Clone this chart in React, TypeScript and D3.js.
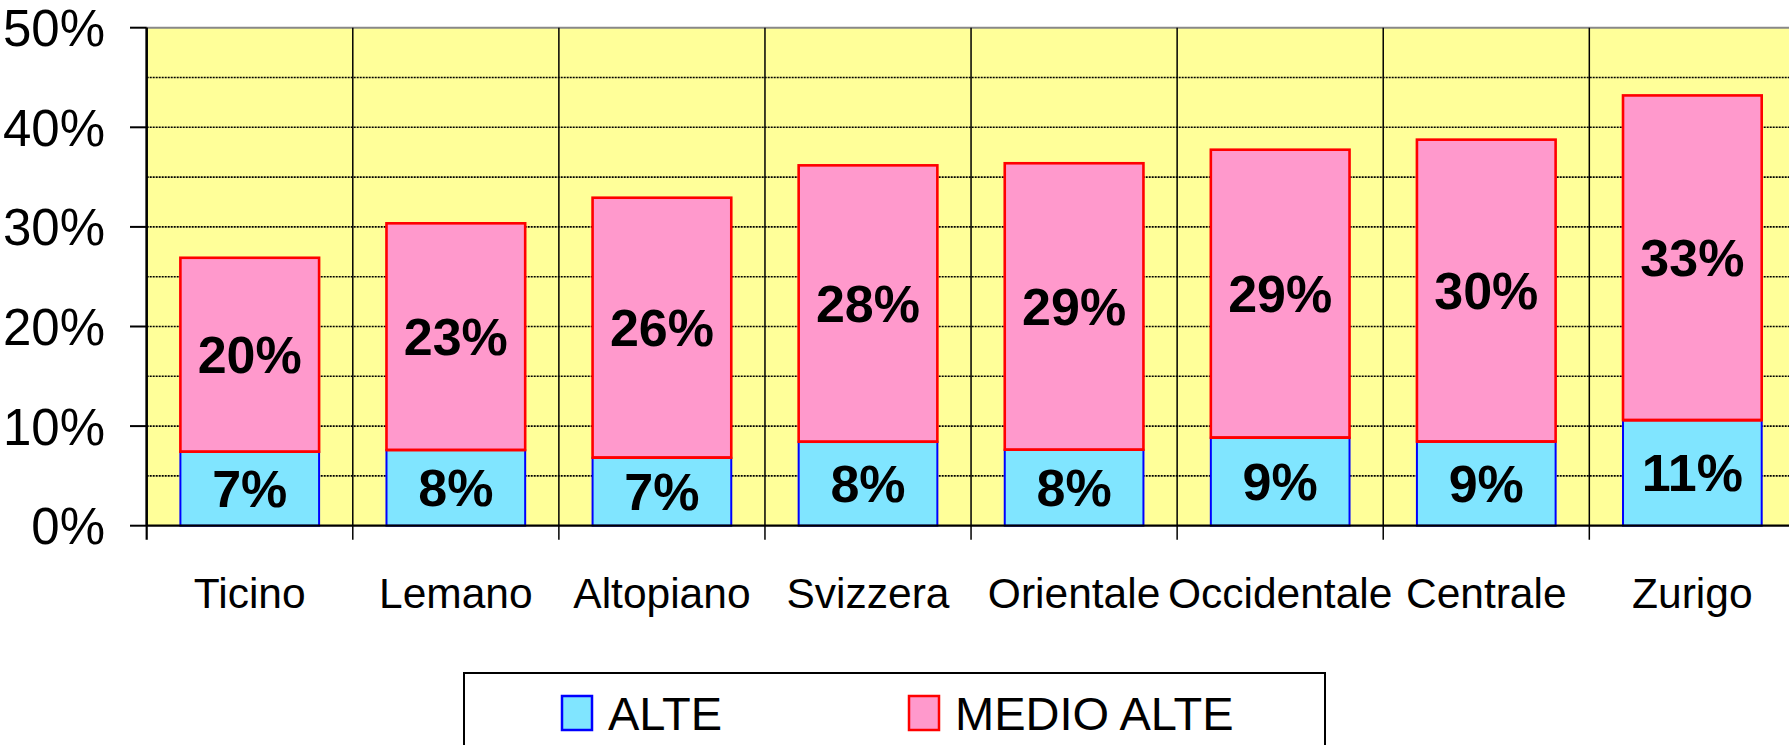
import React from "react";
import * as d3 from "d3";

// dati (percentuali)
const regioni = ["Ticino", "Lemano", "Altopiano", "Svizzera", "Orientale", "Occidentale", "Centrale", "Zurigo"];
const alte = [7.43, 7.6, 6.83, 8.43, 7.63, 8.84, 8.45, 10.6];
const medioAlte = [19.47, 22.76, 26.1, 27.75, 28.76, 28.91, 30.31, 32.6];
const etichetteAlte = ["7%", "8%", "7%", "8%", "8%", "9%", "9%", "11%"];
const etichetteMedio = ["20%", "23%", "26%", "28%", "29%", "29%", "30%", "33%"];
const yTicks = [0, 10, 20, 30, 40, 50];
const yGrid = [5, 10, 15, 20, 25, 30, 35, 40, 45];
const serie = ["ALTE", "MEDIO ALTE"];

const W = 1789;
const H = 745;
const font = "'Liberation Sans', Arial, sans-serif";

const App = () => {
  const left = 146.7;
  const right = 1795.4;
  const top = 27.7;
  const bottom = 525.7;

  const x = d3.scaleBand<string>()
    .domain(regioni)
    .range([left, right])
    .paddingInner(0.327)
    .paddingOuter(0.1635);
  const step = x.step();

  const y = d3.scaleLinear().domain([0, 50]).range([bottom, top]);

  const stack = d3.stack<number>()
    .keys(["a", "m"])
    .value((i, k) => (k === "a" ? alte[i] : medioAlte[i]));
  const strati = stack(regioni.map((_, i) => i));

  const fill = ["#80E5FF", "#FF99CC"];
  const stroke = ["#0000FF", "#FF0000"];
  const strokeW = [2, 2.6];
  const etichette = [etichetteAlte, etichetteMedio];

  return (
    <svg width={W} height={H} style={{ position: "absolute", left: 0, top: 0, background: "#fff" }}>
      {/* sfondo area del grafico */}
      <rect x={left} y={top} width={right - left} height={bottom - top} fill="#FFFF99" />

      {/* griglia tratteggiata */}
      {yGrid.map(v => (
        <line key={v} x1={left} x2={right} y1={y(v)} y2={y(v)} stroke="#000" strokeWidth={1.6} strokeDasharray="2,1" />
      ))}
      <line x1={left} x2={right} y1={y(50)} y2={y(50)} stroke="#888" strokeWidth={2} />

      {/* separatori delle categorie */}
      {regioni.map((_, i) => (
        <line key={i} x1={left + i * step} x2={left + i * step} y1={top} y2={bottom + 14}
          stroke="#000" strokeWidth={i === 0 ? 2.2 : 1.5} />
      ))}

      {/* barre impilate */}
      {strati.map((s, si) => (
        <g key={si}>
          {s.map((d, i) => (
            <rect key={i}
              x={x(regioni[i])!}
              y={y(d[1])}
              width={x.bandwidth()}
              height={y(d[0]) - y(d[1])}
              fill={fill[si]}
              stroke={stroke[si]}
              strokeWidth={strokeW[si]} />
          ))}
        </g>
      ))}
      {/* ridisegna il bordo rosso sopra il blu */}
      {strati[1].map((d, i) => (
        <line key={i} x1={x(regioni[i])!} x2={x(regioni[i])! + x.bandwidth()} y1={y(d[0])} y2={y(d[0])}
          stroke="#FF0000" strokeWidth={2.6} />
      ))}

      {/* etichette valori */}
      {strati.map((s, si) => (
        <g key={si}>
          {s.map((d, i) => (
            <text key={i}
              x={x(regioni[i])! + x.bandwidth() / 2}
              y={(y(d[0]) + y(d[1])) / 2 + 18.5}
              textAnchor="middle"
              fontFamily={font}
              fontWeight="bold"
              fontSize={52}
              fill="#000">
              {etichette[si][i]}
            </text>
          ))}
        </g>
      ))}

      {/* asse y */}
      <line x1={left} x2={left} y1={top} y2={bottom} stroke="#000" strokeWidth={2.2} />
      {yTicks.map(v => (
        <g key={v}>
          <line x1={130} x2={left} y1={y(v)} y2={y(v)} stroke="#000" strokeWidth={2} />
          <text x={105} y={y(v) + 18.5} textAnchor="end" fontFamily={font} fontSize={51} fill="#000">
            {v}%
          </text>
        </g>
      ))}

      {/* asse x */}
      <line x1={left} x2={right} y1={bottom} y2={bottom} stroke="#000" strokeWidth={2.2} />
      {regioni.map(r => (
        <text key={r} x={x(r)! + x.bandwidth() / 2} y={608} textAnchor="middle"
          fontFamily={font} fontSize={42.5} fill="#000">
          {r}
        </text>
      ))}

      {/* legenda */}
      <rect x={464} y={673} width={861} height={100} fill="#fff" stroke="#000" strokeWidth={2} />
      {serie.map((s, i) => {
        const lx = i === 0 ? 562 : 909;
        return (
          <g key={s}>
            <rect x={lx} y={696} width={30} height={34} fill={fill[i]} stroke={stroke[i]} strokeWidth={2.5} />
            <text x={lx + 46} y={730} fontFamily={font} fontSize={47} fill="#000">{s}</text>
          </g>
        );
      })}
    </svg>
  );
};

export default App;
